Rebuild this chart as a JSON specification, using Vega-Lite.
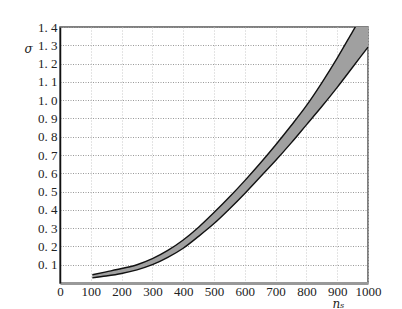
{
  "$schema": "https://vega.github.io/schema/vega-lite/v6.json",
  "width": 308,
  "height": 256,
  "autosize": "none",
  "padding": {"left": 60, "top": 27, "right": 34, "bottom": 26},
  "background": "white",
  "config": {
    "view": {"stroke": "#555", "strokeWidth": 1.5},
    "axis": {"labelFont": "Liberation Serif", "labelFontSize": 13, "labelColor": "#222", "ticks": false, "titleFont": "Liberation Serif", "labelOverlap": false, "labelFlush": false}
  },
  "data": {
    "values": [
      {"n": 105, "lo": 0.028, "hi": 0.045},
      {"n": 150, "lo": 0.038, "hi": 0.061},
      {"n": 200, "lo": 0.052, "hi": 0.079},
      {"n": 250, "lo": 0.072, "hi": 0.100},
      {"n": 300, "lo": 0.100, "hi": 0.133},
      {"n": 350, "lo": 0.140, "hi": 0.178},
      {"n": 400, "lo": 0.190, "hi": 0.235},
      {"n": 450, "lo": 0.255, "hi": 0.305},
      {"n": 500, "lo": 0.325, "hi": 0.385},
      {"n": 550, "lo": 0.405, "hi": 0.470},
      {"n": 600, "lo": 0.490, "hi": 0.560},
      {"n": 650, "lo": 0.580, "hi": 0.655},
      {"n": 700, "lo": 0.670, "hi": 0.755},
      {"n": 750, "lo": 0.765, "hi": 0.860},
      {"n": 800, "lo": 0.865, "hi": 0.970},
      {"n": 850, "lo": 0.965, "hi": 1.095},
      {"n": 900, "lo": 1.070, "hi": 1.230},
      {"n": 950, "lo": 1.180, "hi": 1.375},
      {"n": 1000, "lo": 1.290, "hi": 1.520}
    ]
  },
  "encoding": {
    "x": {
      "field": "n", "type": "quantitative",
      "scale": {"domain": [0, 1000], "nice": false},
      "axis": {
        "values": [0, 100, 200, 300, 400, 500, 600, 700, 800, 900, 1000],
        "tickCount": 20,
        "format": "d",
        "labelOverlap": false, "labelFlush": false,
        "grid": true, "gridColor": "#c8c8c8", "gridDash": [1, 2], "gridWidth": 1,
        "domainColor": "#999", "domainWidth": 3,
        "labelPadding": 2,
        "title": "nₛ", "titleFont": "DejaVu Serif", "titleFontStyle": "italic", "titleFontWeight": "normal", "titleFontSize": 12,
        "titleX": 278, "titleY": 24, "titleBaseline": "alphabetic", "titleAlign": "center", "titleColor": "#222"
      }
    }
  },
  "layer": [
    {
      "mark": {"type": "area", "color": "#a0a0a0", "opacity": 1, "clip": true, "interpolate": "monotone"},
      "encoding": {
        "y": {
          "field": "hi", "type": "quantitative",
          "scale": {"domain": [0, 1.4], "nice": false},
          "axis": {
            "values": [0.1, 0.2, 0.3, 0.4, 0.5, 0.6, 0.7, 0.8, 0.9, 1.0, 1.1, 1.2, 1.3, 1.4],
            "tickCount": 30,
            "labelExpr": "replace(format(datum.value, '.1f'), '.', '. ')",
            "labelOverlap": false, "labelFlush": false,
            "grid": true, "gridColor": "#999", "gridDash": [1, 1.5], "gridWidth": 1,
            "domainColor": "#111", "domainWidth": 1.5,
            "labelPadding": 3,
            "title": "σ", "titleFont": "DejaVu Serif", "titleFontStyle": "italic", "titleFontWeight": "normal", "titleFontSize": 12,
            "titleAngle": 0, "titleX": -32, "titleY": 21, "titleBaseline": "middle", "titleAlign": "center", "titleColor": "#222"
          }
        },
        "y2": {"field": "lo"}
      }
    },
    {
      "mark": {"type": "line", "color": "#111", "strokeWidth": 1.4, "clip": true, "interpolate": "monotone"},
      "encoding": {"y": {"field": "hi", "type": "quantitative"}}
    },
    {
      "mark": {"type": "line", "color": "#111", "strokeWidth": 1.4, "clip": true, "interpolate": "monotone"},
      "encoding": {"y": {"field": "lo", "type": "quantitative"}}
    }
  ]
}
